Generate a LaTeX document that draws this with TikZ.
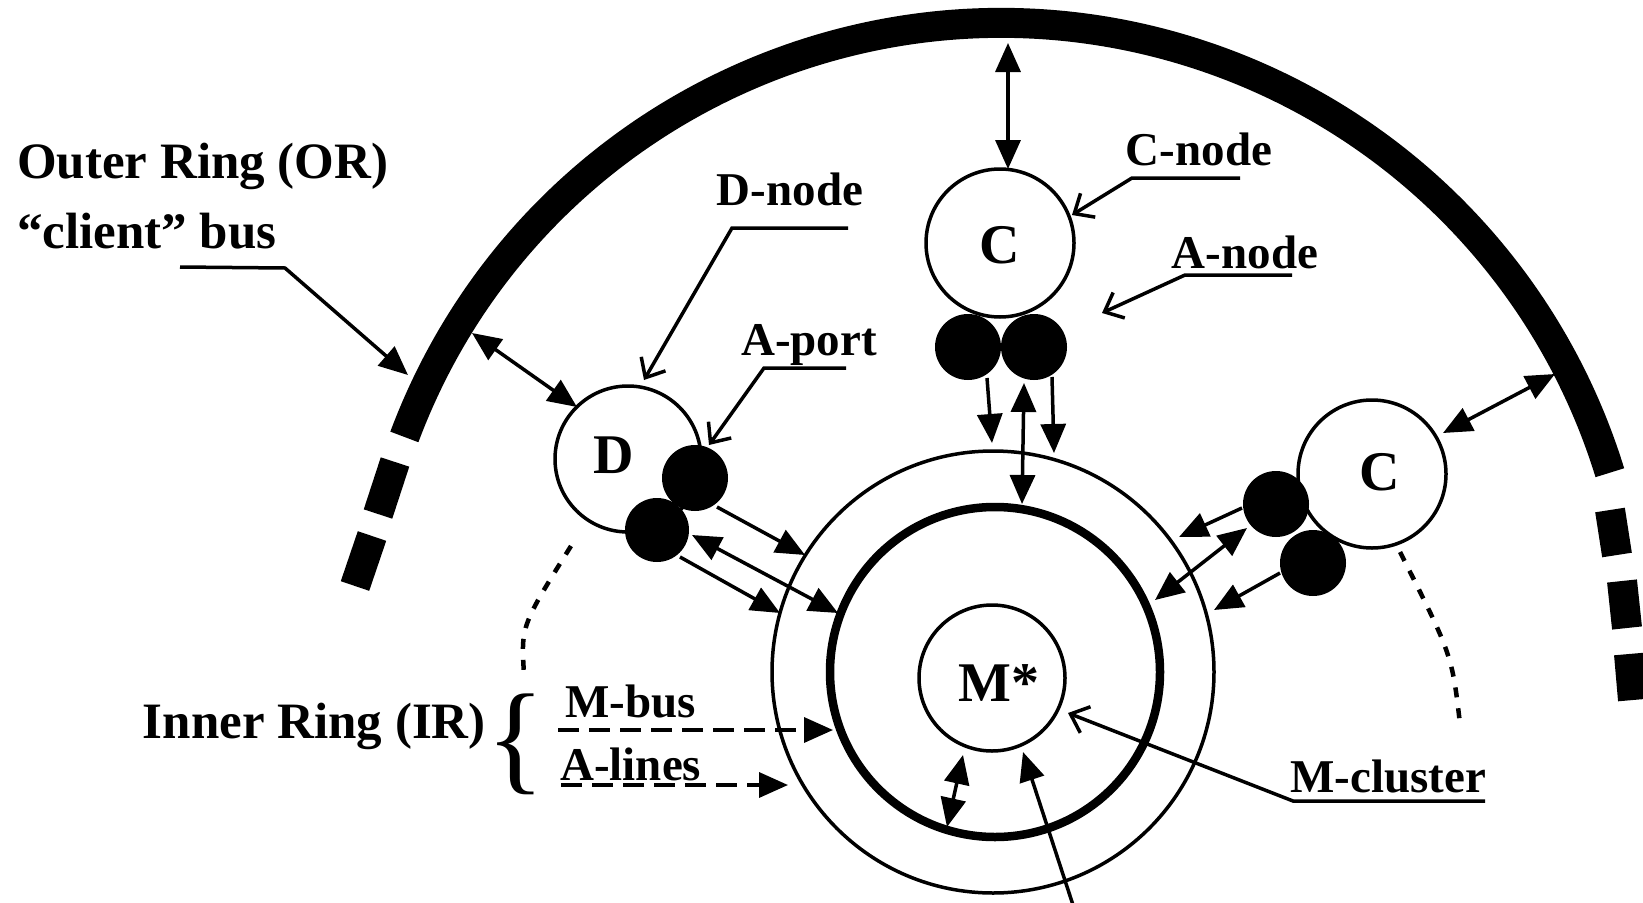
\documentclass[tikz,border=0pt]{standalone}
\usepackage{fontspec}
\setmainfont{Liberation Serif}
\usetikzlibrary{arrows.meta}
\begin{document}
\begin{tikzpicture}[x=1pt,y=-1pt,
  lbl/.style={font=\bfseries\fontsize{47}{56}\selectfont, inner sep=0pt},
  biglbl/.style={font=\bfseries\fontsize{51}{60}\selectfont, inner sep=0pt},
  letter/.style={font=\bfseries\fontsize{56}{64}\selectfont, inner sep=0pt},
  ring/.style={draw, circle, line width=3.5pt, inner sep=0pt, fill=white},
  port/.style={circle, fill=black, inner sep=0pt, minimum size=66pt},
  conn/.style={line width=3.5pt, -{Triangle[length=29pt,width=25pt]}},
  dconn/.style={line width=3.5pt, {Triangle[length=29pt,width=25pt]}-{Triangle[length=29pt,width=25pt]}},
  dashconn/.style={line width=3.5pt, dash pattern=on 21pt off 10pt, -{Triangle[length=29pt,width=25pt]}},
  lead/.style={line width=3.5pt, -{Straight Barb[length=16pt,width=28pt]}},
  dotarc/.style={line width=4.5pt, dash pattern=on 10pt off 11pt},
  orbus/.style={line width=30pt}
]
\useasboundingbox (0,0) rectangle (1643,902);

% ---------- outer ring (client bus) ----------
\coordinate (OC) at (1001,660);
\draw[orbus] (OC) ++(159.5:637pt) arc[start angle=159.5, end angle=17.1, radius=637pt];
\coordinate (ld1a) at (395,462); \coordinate (ld1b) at (378,514);
\coordinate (ld2a) at (372,536); \coordinate (ld2b) at (355,586);
\coordinate (rd1a) at (1610,510); \coordinate (rd1b) at (1617,555);
\coordinate (rd2a) at (1622,581); \coordinate (rd2b) at (1627,628);
\coordinate (rd3a) at (1629,654); \coordinate (rd3b) at (1633,700);
\draw[orbus] (ld1a) -- (ld1b);
\draw[orbus] (ld2a) -- (ld2b);
\draw[orbus] (rd1a) -- (rd1b);
\draw[orbus] (rd2a) -- (rd2b);
\draw[orbus] (rd3a) -- (rd3b);

% ---------- inner ring ----------
\node[draw, circle, line width=3.5pt, inner sep=0pt, minimum size=442pt] (IRout) at (993,672) {};
\node[draw, circle, line width=8.5pt, inner sep=0pt, minimum size=330pt] (IRin) at (995,672) {};
\node[ring, minimum size=146pt] (M) at (992,678) {};
\node[letter] (Mt) at (999,683) {M*};

% ---------- nodes ----------
\node[ring, minimum size=146pt] (D) at (628,459) {};
\node[letter] (Dt) at (614,455) {D};
\node[port] (dp1) at (695,478) {};
\node[port, minimum size=64pt] (dp2) at (657,530) {};

\node[ring, minimum size=148pt] (C1) at (1000,243) {};
\node[letter] (C1t) at (1000,245) {C};
\node[port] (tp1) at (968,347) {};
\node[port] (tp2) at (1034,347) {};

\node[ring, minimum size=148pt] (C2) at (1372,474) {};
\node[letter] (C2t) at (1380,472) {C};
\node[port] (rp1) at (1276,504) {};
\node[port] (rp2) at (1313,563) {};

% ---------- dotted arcs ----------
\coordinate (dlA) at (571,546); \coordinate (dlB) at (524,674);
\draw[dotarc] (dlA) .. controls (521,626) .. (dlB);
\coordinate (drA) at (1400,552); \coordinate (drB) at (1460,724);
\draw[dotarc] (drA) .. controls (1452,655) .. (drB);

% ---------- connectors ----------
\coordinate (a1) at (472,333); \coordinate (a2) at (577,407);
\draw[dconn] (a1) -- (a2);
\coordinate (b1) at (1008,43); \coordinate (b2) at (1008,169);
\draw[dconn] (b1) -- (b2);
\coordinate (c1) at (1443,433); \coordinate (c2) at (1555,374);
\draw[dconn] (c1) -- (c2);

% D ports
\coordinate (d1s) at (717,507); \coordinate (d1e) at (805,555);
\draw[conn] (d1s) -- (d1e);
\coordinate (d2s) at (692,535); \coordinate (d2e) at (838,613);
\draw[dconn] (d2s) -- (d2e);
\coordinate (d3s) at (680,557); \coordinate (d3e) at (780,613);
\draw[conn] (d3s) -- (d3e);

% top ports
\coordinate (t1s) at (987,378); \coordinate (t1e) at (992,443);
\draw[conn] (t1s) -- (t1e);
\coordinate (t2s) at (1024,383); \coordinate (t2e) at (1022,504);
\draw[dconn] (t2s) -- (t2e);
\coordinate (t3s) at (1052,377); \coordinate (t3e) at (1054,453);
\draw[conn] (t3s) -- (t3e);

% right ports
\coordinate (r1s) at (1242,508); \coordinate (r1e) at (1179,537);
\draw[conn] (r1s) -- (r1e);
\coordinate (r2s) at (1247,528); \coordinate (r2e) at (1155,600);
\draw[dconn] (r2s) -- (r2e);
\coordinate (r3s) at (1280,573); \coordinate (r3e) at (1214,610);
\draw[conn] (r3s) -- (r3e);

% M cluster
\coordinate (m1s) at (963,755); \coordinate (m1e) at (947,827);
\draw[dconn] (m1s) -- (m1e);
\coordinate (m2s) at (1073,905); \coordinate (m2e) at (1023,752);
\draw[conn] (m2s) -- (m2e);

% ---------- labels ----------
\node[biglbl, anchor=base west] (ORt) at (17,178) {Outer Ring (OR)};
\node[biglbl, anchor=base west] (CBt) at (17,248) {“client” bus};
\coordinate (or1) at (180,267); \coordinate (or2) at (285,268); \coordinate (or3) at (408,375);
\draw[conn] (or1) -- (or2) -- (or3);

\node[lbl, anchor=base] (DNt) at (790,205) {D-node};
\coordinate (dn1) at (848,228); \coordinate (dn2) at (732,228); \coordinate (dn3) at (644,380);
\draw[lead] (dn1) -- (dn2) -- (dn3);

\node[lbl, anchor=base] (APt) at (809,355) {A-port};
\coordinate (ap1) at (846,368); \coordinate (ap2) at (764,368); \coordinate (ap3) at (709,445);
\draw[lead] (ap1) -- (ap2) -- (ap3);

\node[lbl, anchor=base] (CNt) at (1199,165) {C-node};
\coordinate (cn1) at (1240,178); \coordinate (cn2) at (1132,178); \coordinate (cn3) at (1072,215);
\draw[lead] (cn1) -- (cn2) -- (cn3);

\node[lbl, anchor=base] (ANt) at (1245,268) {A-node};
\coordinate (an1) at (1292,275); \coordinate (an2) at (1185,275); \coordinate (an3) at (1102,313);
\draw[lead] (an1) -- (an2) -- (an3);

\node[lbl, anchor=base] (MCt) at (1388,792) {M-cluster};
\coordinate (mc1) at (1485,801); \coordinate (mc2) at (1293,801); \coordinate (mc3) at (1068,713);
\draw[lead] (mc1) -- (mc2) -- (mc3);

\node[biglbl, anchor=base east] (IRt) at (486,738) {Inner Ring (IR)};
\node[font=\fontsize{122}{122}\selectfont, inner sep=0pt] (brace) at (516,744) {\{};
\node[lbl, anchor=base west] (MBt) at (565,717) {M-bus};
\node[lbl, anchor=base west] (ALt) at (560,780) {A-lines};
\coordinate (mb1) at (558,730); \coordinate (mb2) at (833,730);
\draw[dashconn] (mb1) -- (mb2);
\coordinate (al1) at (561,785); \coordinate (al2) at (788,785);
\draw[dashconn] (al1) -- (al2);
\end{tikzpicture}
\end{document}
